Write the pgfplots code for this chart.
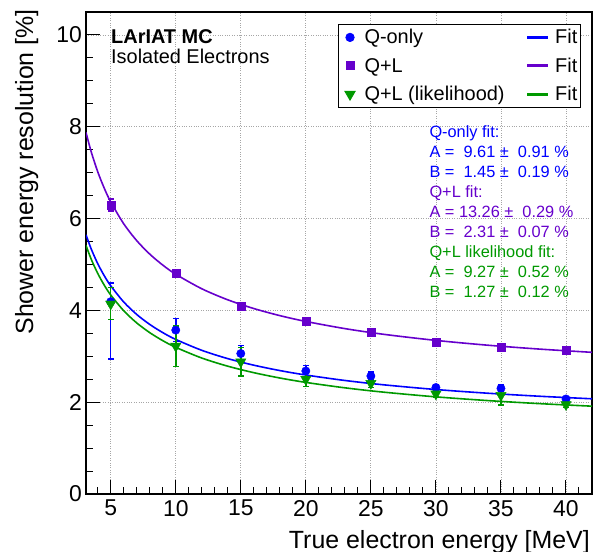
\documentclass[border=0pt]{standalone}
\usepackage{pgfplots}
\pgfplotsset{compat=1.18}
\usepackage{pgfplotstable}
\usepackage{fontspec}
\setmainfont{Liberation Sans}
\definecolor{rblue}{RGB}{0,0,255}
\definecolor{rviolet}{RGB}{102,0,204}
\definecolor{rgreen}{RGB}{0,153,0}
\pgfplotsset{
  legmark/.style={legend image code/.code={\path (-10.5bp,0bp); \draw[##1] plot coordinates {(0bp,0bp)};}},
  legline/.style={legend image code/.code={\fill[#1] (0bp,-0.8bp) rectangle (20bp,0.8bp);}},
  ebars/.style={error bars/.cd, y dir=both, y explicit,
    error bar style={line width=1.5bp},
    error mark options={rotate=90, mark size=3bp, line width=1.5bp}},
}
\pgfplotstableread{
x y ep em
5 4.19 0.41 1.25
10 3.57 0.25 0.25
15 3.06 0.17 0.17
20 2.68 0.12 0.12
25 2.57 0.09 0.09
30 2.32 0.06 0.06
35 2.30 0.07 0.07
40 2.07 0.05 0.05
}\qonly
\pgfplotstableread{
x y ep em
5 6.30 0.13 0.13
10 4.80 0.04 0.04
15 4.10 0.04 0.04
20 3.77 0.03 0.03
25 3.53 0.03 0.03
30 3.31 0.03 0.03
35 3.19 0.03 0.03
40 3.13 0.03 0.03
}\ql
\pgfplotstableread{
x y ep em
5 4.14 0.36 0.34
10 3.22 0.44 0.44
15 2.88 0.31 0.31
20 2.50 0.16 0.16
25 2.41 0.09 0.09
30 2.18 0.07 0.07
35 2.15 0.21 0.21
40 1.95 0.07 0.07
}\qllik
% fit curves sigma/E = A/sqrt(E) (+) B, tabulated
\pgfplotstableread{
x q ql lik
3.1 5.647 7.877 5.416
3.5 5.338 7.455 5.115
4 5.019 7.021 4.806
4.5 4.757 6.664 4.551
5 4.536 6.364 4.336
6 4.183 5.886 3.992
7 3.911 5.519 3.727
8 3.694 5.226 3.515
9 3.516 4.987 3.341
10 3.367 4.787 3.195
12 3.130 4.471 2.962
14 2.949 4.230 2.784
16 2.806 4.040 2.643
18 2.689 3.886 2.527
20 2.592 3.759 2.431
23 2.473 3.603 2.313
26 2.378 3.478 2.218
30 2.276 3.346 2.116
34 2.195 3.241 2.035
38 2.129 3.156 1.968
42 2.074 3.086 1.913
}\fits
\begin{document}
\begin{tikzpicture}
\begin{axis}[
  at={(86bp,58bp)}, anchor=south west,
  width=506bp, height=482bp, scale only axis,
  xmin=3.1, xmax=42, ymin=0, ymax=10.5,
  xtick={5,10,...,40}, ytick={0,2,...,10},
  minor xtick={4,...,42}, minor ytick={0,0.5,...,10.5},
  tick align=inside, tick pos=left,
  major tick length=14bp, minor tick length=7bp,
  tick style={black, line width=1bp},
  axis line style={line width=1.5bp},
  grid=major, grid style={dotted, gray!70, line width=0.8bp},
  /pgf/number format/assume math mode=true,
  ticklabel style={font=\fontsize{23}{27}\selectfont},
  xticklabel style={inner sep=0pt, anchor=north, yshift=-6bp},
  yticklabel style={inner sep=0pt, anchor=east, xshift=-4bp},
  legend columns=2,
  legend style={
    at={(rel axis cs:0.9777,0.975)}, anchor=north east,
    draw=black, line width=0.8bp, fill=white,
    font=\fontsize{20}{24}\selectfont,
    inner xsep=1bp, inner ysep=3bp, row sep=8.5bp,
    /tikz/column 1/.style={column sep=7.3bp},
    /tikz/column 2/.style={column sep=20bp},
    /tikz/column 3/.style={column sep=5bp},
    cells={anchor=west},
  },
]
\addplot[rblue, only marks, mark=*, mark size=4.2bp, legmark, ebars]
  table[x=x, y=y, y error plus=ep, y error minus=em] {\qonly};
\addlegendentry{Q-only}
\addplot[rblue, line width=1.6bp, smooth, legline=rblue] table[x=x, y=q] {\fits};
\addlegendentry{Fit}
\addplot[rviolet, only marks, mark=square*, mark size=4bp, legmark, ebars]
  table[x=x, y=y, y error plus=ep, y error minus=em] {\ql};
\addlegendentry{Q+L}
\addplot[rviolet, line width=1.6bp, smooth, legline=rviolet] table[x=x, y=ql] {\fits};
\addlegendentry{Fit}
\addplot[rgreen, only marks, mark=triangle*, mark size=6bp, mark options={rotate=180}, legmark, ebars]
  table[x=x, y=y, y error plus=ep, y error minus=em] {\qllik};
\addlegendentry{Q+L (likelihood)}
\addplot[rgreen, line width=1.6bp, smooth, legline=rgreen] table[x=x, y=lik] {\fits};
\addlegendentry{Fit}
\end{axis}
\node[rotate=90, anchor=base east, inner sep=0pt, font=\fontsize{25}{30}\selectfont] at (33bp,543bp) {Shower energy resolution [\%]};
\node[anchor=base east, inner sep=0pt, font=\fontsize{25}{30}\selectfont] at (590bp,4bp) {True electron energy [MeV]};
\node[anchor=base west, inner sep=0pt, font=\fontsize{20}{24}\selectfont\bfseries] at (111bp,508.7bp) {LArIAT MC};
\node[anchor=base west, inner sep=0pt, font=\fontsize{20}{24}\selectfont] at (111bp,488.7bp) {Isolated Electrons};
\begin{scope}[every node/.style={anchor=base west, inner sep=0pt, font=\fontsize{16.4}{20}\selectfont}]
\node[text=rblue] at (429.3bp,414.3bp) {Q-only fit:};
\node[text=rblue] at (429.3bp,394.3bp) {A =~~9.61 ±~~0.91 \%};
\node[text=rblue] at (429.3bp,374.3bp) {B =~~1.45 ±~~0.19 \%};
\node[text=rviolet] at (429.3bp,354.3bp) {Q+L fit:};
\node[text=rviolet] at (429.3bp,334.3bp) {A = 13.26 ±~~0.29 \%};
\node[text=rviolet] at (429.3bp,314.3bp) {B =~~2.31 ±~~0.07 \%};
\node[text=rgreen] at (429.3bp,294.3bp) {Q+L likelihood fit:};
\node[text=rgreen] at (429.3bp,274.3bp) {A =~~9.27 ±~~0.52 \%};
\node[text=rgreen] at (429.3bp,254.3bp) {B =~~1.27 ±~~0.12 \%};
\end{scope}
\pgfresetboundingbox
\useasboundingbox (0,0) rectangle (599bp,552bp);
\end{tikzpicture}
\end{document}
